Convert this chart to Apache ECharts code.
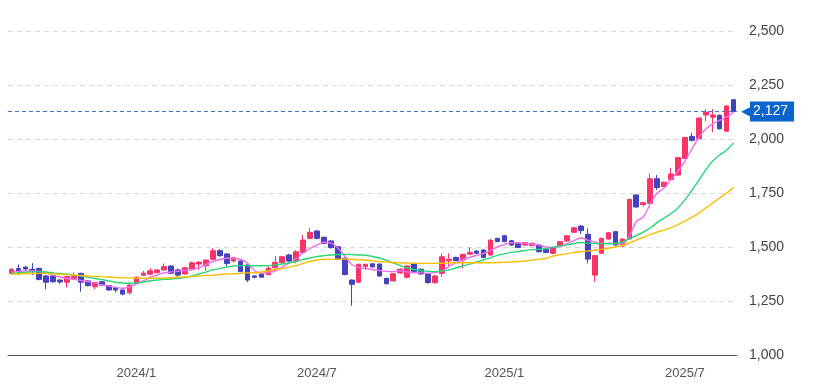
<!DOCTYPE html>
<html>
<head>
<meta charset="utf-8">
<script src="https://cdn.jsdelivr.net/npm/echarts@6/dist/echarts.min.js"></script>
<style>
html,body{margin:0;padding:0;background:#fff;}
#chart{width:819px;height:392px;}
</style>
</head>
<body>
<div id="chart"></div>
<script>
// Weekly candles, first week starting 2023-08-28 (105 weeks)
const firstWeek = '2023-08-28';
const weekCount = 105;
const xTickLabels = ['2024/1', '2024/7', '2025/1', '2025/7'];
const yTicks = [1000, 1250, 1500, 1750, 2000, 2250, 2500];
const lastClose = 2127;

// [open, close, low, high]
const ohlc = [
  [1378,1397,1372,1402],[1400,1386,1370,1420],[1407,1398,1392,1412],[1397,1390,1370,1425],
  [1401,1350,1345,1404],[1366,1337,1304,1370],[1366,1339,1335,1370],[1347,1338,1330,1352],
  [1337,1363,1312,1366],[1355,1366,1350,1383],[1378,1337,1293,1381],[1343,1321,1318,1346],
  [1316,1335,1304,1338],[1339,1324,1320,1343],[1321,1301,1297,1324],[1312,1301,1290,1314],
  [1301,1282,1276,1304],[1288,1324,1280,1335],[1335,1360,1332,1363],[1369,1379,1366,1390],
  [1374,1390,1370,1403],[1381,1394,1378,1397],[1394,1409,1390,1424],[1412,1378,1375,1415],
  [1394,1370,1362,1400],[1375,1404,1372,1407],[1397,1427,1392,1432],[1421,1430,1394,1433],
  [1413,1440,1390,1443],[1443,1483,1440,1494],[1483,1460,1455,1490],[1468,1424,1409,1471],
  [1435,1450,1430,1455],[1435,1386,1383,1438],[1417,1347,1337,1420],[1366,1360,1355,1370],
  [1375,1360,1357,1378],[1372,1402,1370,1412],[1404,1429,1400,1458],[1427,1455,1424,1458],
  [1463,1435,1430,1468],[1435,1478,1425,1485],[1475,1532,1472,1556],[1540,1568,1536,1589],
  [1574,1540,1536,1578],[1545,1517,1513,1548],[1528,1497,1493,1531],[1501,1444,1440,1504],
  [1448,1373,1368,1451],[1347,1327,1228,1350],[1337,1420,1335,1422],[1409,1420,1395,1422],
  [1422,1408,1404,1425],[1421,1366,1362,1424],[1355,1330,1326,1358],[1343,1376,1340,1380],
  [1380,1397,1376,1400],[1360,1412,1355,1415],[1421,1386,1382,1424],[1397,1375,1372,1400],
  [1375,1335,1330,1378],[1335,1366,1330,1369],[1378,1455,1362,1471],[1436,1443,1410,1471],
  [1452,1437,1434,1455],[1440,1466,1401,1469],[1467,1475,1464,1498],[1481,1471,1468,1484],
  [1486,1452,1448,1489],[1463,1532,1460,1535],[1540,1525,1522,1543],[1552,1525,1522,1556],
  [1529,1509,1505,1532],[1517,1498,1494,1520],[1509,1520,1506,1523],[1506,1517,1503,1520],
  [1509,1478,1474,1512],[1490,1475,1471,1493],[1471,1496,1466,1499],[1506,1525,1502,1528],
  [1528,1552,1524,1556],[1568,1589,1565,1592],[1597,1576,1560,1602],[1559,1444,1424,1586],
  [1370,1460,1339,1463],[1471,1540,1468,1543],[1537,1566,1534,1569],[1571,1509,1506,1574],
  [1506,1537,1500,1540],[1537,1720,1534,1723],[1741,1685,1682,1744],[1696,1705,1688,1710],
  [1702,1816,1698,1840],[1816,1775,1764,1833],[1780,1800,1777,1803],[1812,1838,1806,1867],
  [1833,1914,1830,1917],[1910,2007,1907,2010],[2012,1994,1988,2029],[2001,2097,1998,2100],
  [2111,2124,2083,2138],[2101,2111,2031,2138],[2110,2047,2044,2113],[2036,2153,2033,2156],
  [2182,2127,2124,2185]
];

// Moving averages
const maShort = [
  1384,1387,1389,1389,1387,1380,1370,1361,1354,1350,1345,1340,1333,1326,1319,1313,
  1309,1315,1329,1343,1360,1370,1381,1384,1388,1391,1396,1403,1419,1433,1442,1448,
  1448,1442,1426,1391,1378,1382,1389,1407,1426,1447,1472,1493,1509,1522,1519,1495,
  1458,1419,1405,1400,1396,1391,1387,1386,1389,1384,1381,1380,1378,1382,1389,1410,
  1428,1442,1452,1461,1470,1484,1500,1512,1520,1519,1517,1513,1508,1500,1499,1502,
  1514,1530,1542,1532,1523,1517,1517,1516,1514,1551,1618,1639,1699,1750,1773,1813,
  1852,1898,1954,2007,2046,2070,2086,2102,2123
];
const maMid = [
  1378,1381,1383,1384,1386,1384,1380,1377,1374,1370,1366,1360,1354,1349,1343,1337,
  1333,1332,1333,1338,1344,1347,1350,1352,1355,1359,1366,1375,1384,1394,1400,1407,
  1412,1414,1414,1413,1413,1414,1417,1421,1426,1433,1442,1449,1456,1460,1463,1465,
  1466,1465,1463,1462,1456,1449,1438,1426,1414,1403,1396,1390,1388,1386,1389,1394,
  1403,1412,1421,1431,1440,1451,1461,1468,1475,1479,1484,1488,1489,1493,1498,1505,
  1510,1516,1521,1518,1516,1515,1515,1516,1523,1539,1553,1569,1588,1613,1634,1655,
  1681,1718,1762,1810,1857,1898,1926,1949,1982
];
const maLong = [
  1374,1375,1377,1377,1378,1377,1375,1374,1372,1370,1368,1366,1364,1363,1361,1359,
  1357,1357,1355,1355,1355,1355,1356,1357,1360,1361,1363,1366,1368,1370,1373,1375,
  1376,1378,1380,1381,1384,1389,1396,1400,1407,1414,1424,1433,1440,1443,1444,1444,
  1444,1443,1441,1440,1436,1433,1431,1428,1427,1426,1425,1424,1424,1424,1425,1426,
  1427,1427,1427,1427,1427,1427,1428,1429,1431,1433,1435,1439,1444,1447,1458,1464,
  1468,1475,1478,1481,1485,1489,1494,1500,1508,1519,1532,1544,1558,1569,1579,1590,
  1604,1620,1637,1657,1681,1704,1727,1750,1775
];

// build weekly category dates (calendar only)
const dates = [];
{
  const d0 = new Date(firstWeek + 'T00:00:00Z');
  for (let i = 0; i < weekCount; i++) {
    const d = new Date(d0.getTime() + i * 7 * 86400000);
    dates.push(d.toISOString().slice(0, 10));
  }
}
function ym(s) { return (+s.slice(0, 4)) + '/' + (+s.slice(5, 7)); }
const labelIdx = new Set();
for (let i = 1; i < dates.length; i++) {
  const lab = ym(dates[i]);
  if (lab !== ym(dates[i - 1]) && xTickLabels.includes(lab)) labelIdx.add(i);
}

const UP = '#fb3466', DOWN = '#4343bf';
const chart = echarts.init(document.getElementById('chart'), null, { renderer: 'canvas' });
const fmt = v => Number(v).toLocaleString('en-US');

chart.setOption({
  animation: false,
  grid: { left: 8, right: 82, top: 31, bottom: 37 },
  xAxis: {
    type: 'category',
    data: dates,
    boundaryGap: true,
    axisLine: { lineStyle: { color: '#555', width: 1 } },
    axisTick: { show: false },
    splitLine: { show: false },
    axisLabel: {
      interval: (i) => labelIdx.has(i),
      formatter: (v) => ym(v),
      color: '#555',
      fontSize: 13,
      fontFamily: 'Liberation Sans, Arial, sans-serif',
      margin: 12
    }
  },
  yAxis: {
    type: 'value',
    position: 'right',
    min: yTicks[0],
    max: yTicks[yTicks.length - 1],
    interval: 250,
    axisLine: { show: false },
    axisTick: { show: false },
    splitLine: { lineStyle: { color: '#d9d9d9', type: [5, 4] } },
    axisLabel: {
      formatter: fmt,
      color: '#444',
      fontSize: 14,
      fontFamily: 'Liberation Sans, Arial, sans-serif',
      margin: 12
    }
  },
  series: [
    {
      type: 'candlestick',
      data: ohlc,
      barWidth: '75%',
      itemStyle: { color: UP, color0: DOWN, borderColor: UP, borderColor0: DOWN, borderWidth: 1 },
      markLine: {
        silent: true,
        symbol: ['none', 'none'],
        data: [{ yAxis: lastClose }],
        lineStyle: { color: '#3f74c9', type: [4, 3], width: 1, opacity: 1 },
        emphasis: { disabled: true },
        label: {
          position: 'end',
          distance: 4,
          formatter: () => '{a|◀}{b|' + fmt(lastClose) + '}',
          rich: {
            a: { color: '#0b63ce', fontSize: 16, padding: [0, -3, 0, 0], lineHeight: 20 },
            b: { color: '#fff', backgroundColor: '#0b63ce', fontSize: 14,
                 fontFamily: 'Liberation Sans, Arial, sans-serif',
                 padding: [3, 6, 3, 3], lineHeight: 14 }
          }
        }
      }
    },
    { type: 'line', data: maShort, symbol: 'none', smooth: 0.3, lineStyle: { color: '#f06cf0', width: 1.4 }, z: 3 },
    { type: 'line', data: maMid, symbol: 'none', smooth: 0.3, lineStyle: { color: '#27d877', width: 1.4 }, z: 3 },
    { type: 'line', data: maLong, symbol: 'none', smooth: 0.3, lineStyle: { color: '#ffbd00', width: 1.4 }, z: 3 }
  ]
});
</script>
</body>
</html>
